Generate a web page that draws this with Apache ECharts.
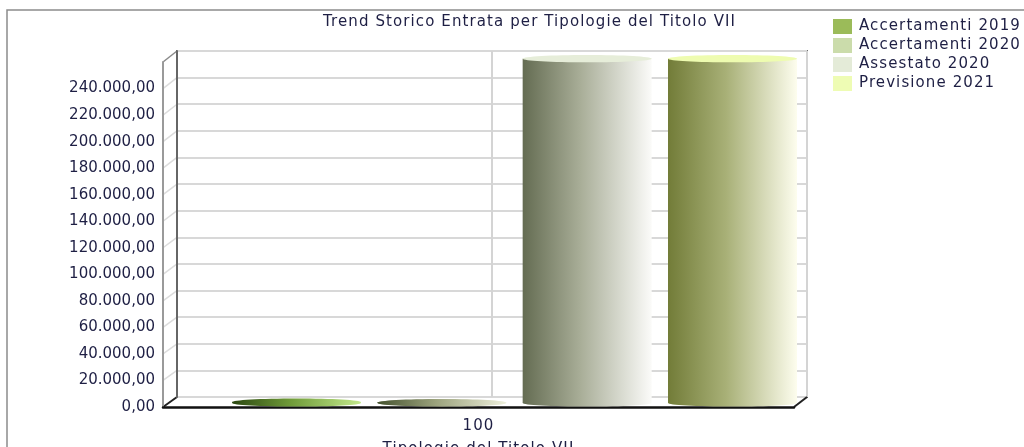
<!DOCTYPE html>
<html>
<head>
<meta charset="utf-8">
<script src="https://cdn.jsdelivr.net/npm/echarts@6/dist/echarts.min.js"></script>
<style>
  html, body { margin: 0; padding: 0; background: #fff; }
  #main { width: 1024px; height: 447px; }
</style>
</head>
<body>
<div id="main"></div>
<script>
// dati
var categorie = ['100'];
var serieNomi = ['Accertamenti 2019', 'Accertamenti 2020', 'Assestato 2020', 'Previsione 2021'];
var accertamenti2019 = [600];
var accertamenti2020 = [300];
var assestato2020 = [258000];
var previsione2021 = [258000];
var yTicks = [0, 20000, 40000, 60000, 80000, 100000, 120000, 140000, 160000, 180000, 200000, 220000, 240000];
var yMax = 260000;

// colori legenda e gradienti dei cilindri
var coloriLegenda = ['#9bbb59', '#cbdcab', '#e4ebd8', '#eefcb4'];
var gradienti = [
    ['#2c4812', '#6f9a38', '#c3e98c'],
    ['#45522f', '#9ba27c', '#eef0dc'],
    ['#646c52', '#a9ae98', '#fbfbf9'],
    ['#727c38', '#a8b077', '#fdfdee']
];
var coloriTop = [null, null, '#e6edd9', '#eefcb0'];

// layout 3D (fronte / fondo)
var FRONT = {x1: 163, y1: 62, x2: 794, y2: 407};
var BACK = {x1: 177, y1: 51, x2: 807, y2: 397};
var FONT = '"DejaVu Sans", sans-serif';
var TXT = '#1e1f44';

// testo un po' spaziato come nell'originale (solo testo allineato a sinistra/centro)
var _fillText = CanvasRenderingContext2D.prototype.fillText;
CanvasRenderingContext2D.prototype.fillText = function () {
    this.letterSpacing = this.textAlign === 'right' || this.textAlign === 'end' ? '0px' : '1.1px';
    return _fillText.apply(this, arguments);
};

function fmtNum(v) {
    var s = Math.round(v).toString().replace(/\B(?=(\d{3})+(?!\d))/g, '.');
    return s + ',00';
}

function grad(c) {
    return new echarts.graphic.LinearGradient(0, 0, 1, 0, [
        {offset: 0, color: c[0]},
        {offset: 0.45, color: c[1]},
        {offset: 1, color: c[2]}
    ]);
}

var BAR_RATIO = 129 / 565;

function cilindro(idx) {
    return function (params, api) {
        var top = api.coord([api.value(0), api.value(1)]);
        var base = api.coord([api.value(0), 0]);
        var band = api.size([1, 0])[0];
        var w = band * BAR_RATIO;
        var step = w + (band - 4 * w) / 3;
        var x0 = base[0] - band / 2 + idx * step;
        var cx = x0 + w / 2;
        var ry = w * 0.028;
        var fill = grad(gradienti[idx]);
        var topFill = coloriTop[idx] ? coloriTop[idx] : grad(gradienti[idx]);
        return {
            type: 'group',
            children: [
                {type: 'ellipse', shape: {cx: cx, cy: base[1], rx: w / 2, ry: ry}, style: {fill: fill}},
                {type: 'rect', shape: {x: x0, y: top[1], width: w, height: Math.max(base[1] - top[1], 0)}, style: {fill: fill}},
                {type: 'ellipse', shape: {cx: cx, cy: top[1], rx: w / 2, ry: ry}, style: {fill: topFill}}
            ]
        };
    };
}

var valori = [accertamenti2019, accertamenti2020, assestato2020, previsione2021];
var series = [];
for (var i = 0; i < serieNomi.length; i++) {
    series.push({
        name: serieNomi[i],
        type: 'custom',
        xAxisIndex: 2,
        yAxisIndex: 2,
        itemStyle: {color: coloriLegenda[i]},
        renderItem: cilindro(i),
        data: valori[i].map(function (v, k) { return [k, v]; })
    });
}

var dom = document.getElementById('main');
var myChart = echarts.init(dom, null, {renderer: 'canvas'});

var option = {
    animation: false,
    backgroundColor: '#fff',
    title: {
        text: 'Trend Storico Entrata per Tipologie del Titolo VII',
        left: 318,
        top: 10,
        textStyle: {fontFamily: FONT, fontSize: 15, fontWeight: 'normal', color: TXT}
    },
    legend: {
        orient: 'vertical',
        left: 828,
        top: 14,
        icon: 'rect',
        itemWidth: 19,
        itemHeight: 15,
        itemGap: 4,
        data: serieNomi,
        textStyle: {fontFamily: FONT, fontSize: 15, color: TXT, padding: [0, 0, 0, 2]}
    },
    grid: [
        {left: FRONT.x1, top: FRONT.y1, width: FRONT.x2 - FRONT.x1, height: FRONT.y2 - FRONT.y1,
            containLabel: false, outerBoundsMode: 'none'},
        {left: BACK.x1, top: BACK.y1, width: BACK.x2 - BACK.x1, height: BACK.y2 - BACK.y1,
            containLabel: false, outerBoundsMode: 'none',
            show: true, borderColor: '#707070', borderWidth: 2},
        {left: 232, top: 56, width: 565, height: 347, containLabel: false, outerBoundsMode: 'none'}
    ],
    xAxis: [
        {
            gridIndex: 0, type: 'category', data: categorie,
            axisLine: {lineStyle: {color: '#111', width: 2.5}},
            axisTick: {alignWithLabel: true, length: 8, lineStyle: {color: '#aaa', width: 2}},
            axisLabel: {fontFamily: FONT, fontSize: 15, color: TXT, margin: 12},
            name: 'Tipologie del Titolo VII', nameLocation: 'middle', nameGap: 35,
            nameTextStyle: {fontFamily: FONT, fontSize: 15, color: TXT}
        },
        {
            gridIndex: 1, type: 'value', min: 0, max: 2, interval: 1,
            axisLine: {show: false}, axisTick: {show: false}, axisLabel: {show: false},
            splitLine: {show: true, lineStyle: {color: '#d4d4d4', width: 2}}
        },
        {gridIndex: 2, type: 'category', data: categorie, show: false}
    ],
    yAxis: [
        {
            gridIndex: 0, type: 'value', min: 0, max: yMax, interval: 20000,
            axisLine: {show: true, lineStyle: {color: '#9a9a9a', width: 2}},
            axisTick: {show: false},
            splitLine: {show: false},
            axisLabel: {
                fontFamily: FONT, fontSize: 15, color: TXT, margin: 8,
                formatter: function (v) { return v > yTicks[yTicks.length - 1] ? '' : fmtNum(v); }
            }
        },
        {
            gridIndex: 1, type: 'value', min: 0, max: yMax, interval: 20000,
            axisLine: {show: true, lineStyle: {color: '#666', width: 2}},
            axisTick: {show: false}, axisLabel: {show: false},
            splitLine: {show: true, lineStyle: {color: '#d8d8d8', width: 2}}
        },
        {gridIndex: 2, type: 'value', min: 0, max: yMax, show: false}
    ],
    series: series
};
myChart.setOption(option);

// pareti laterali e cornice
var grafica = [{
    type: 'rect', z: 0,
    shape: {x: 7, y: 10, width: 1100, height: 500},
    style: {fill: null, stroke: '#8c8c8c', lineWidth: 1.5}
}];
var tickTutti = yTicks.concat([yMax]);
tickTutti.forEach(function (v) {
    var yf = myChart.convertToPixel({yAxisIndex: 0}, v);
    var yb = myChart.convertToPixel({yAxisIndex: 1}, v);
    var col = v === 0 ? '#222' : (v === yMax ? '#8a8a8a' : '#dcdcdc');
    grafica.push({
        type: 'line', z: 0,
        shape: {x1: FRONT.x1, y1: yf, x2: BACK.x1, y2: yb},
        style: {stroke: col, lineWidth: v === 0 ? 2 : 1.5}
    });
});
grafica.push({
    type: 'line', z: 0,
    shape: {x1: FRONT.x2, y1: FRONT.y2, x2: BACK.x2, y2: BACK.y2},
    style: {stroke: '#222', lineWidth: 2}
});
myChart.setOption({graphic: grafica});
</script>
</body>
</html>
